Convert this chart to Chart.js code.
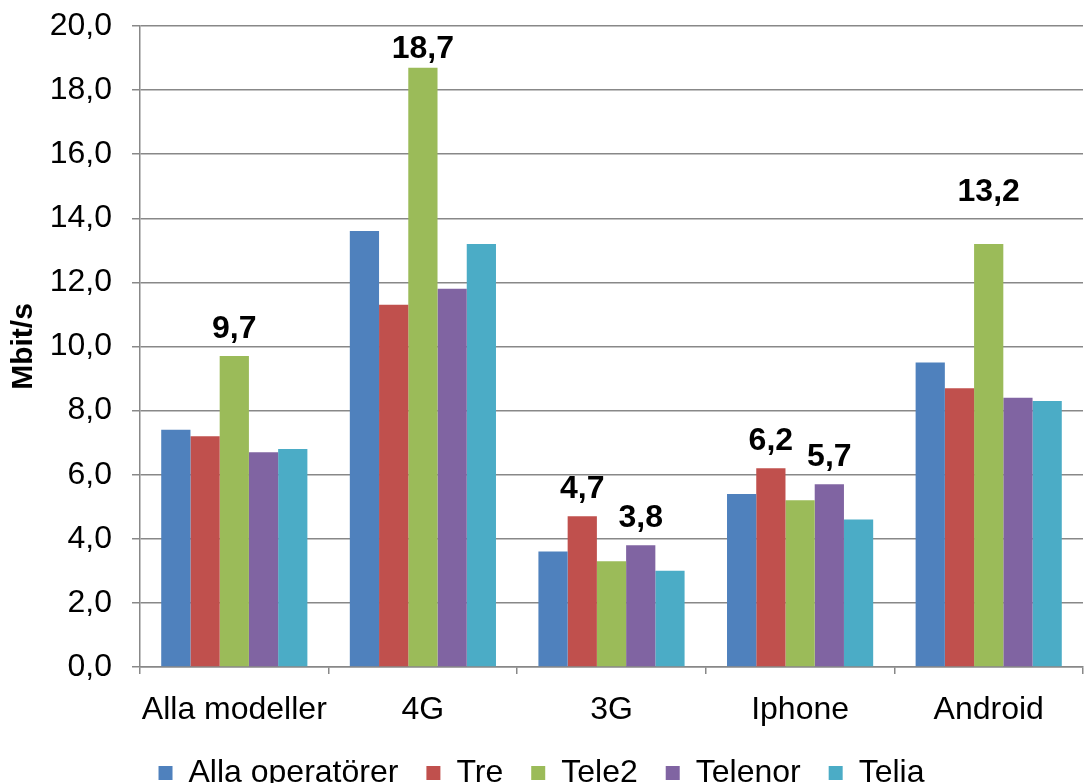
<!DOCTYPE html>
<html>
<head>
<meta charset="utf-8">
<script src="https://cdn.jsdelivr.net/npm/chart.js@4/dist/chart.umd.min.js"></script>
<style>
html,body{margin:0;padding:0;background:#fff;}
#c{display:block;}
</style>
</head>
<body>
<canvas id="c" width="1084" height="783"></canvas>
<script>
const categories = ["Alla modeller", "4G", "3G", "Iphone", "Android"];
const seriesNames = ["Alla operatörer", "Tre", "Tele2", "Telenor", "Telia"];
const allaOperatorer = [7.4, 13.6, 3.6, 5.4, 9.5];
const tre = [7.2, 11.3, 4.7, 6.2, 8.7];
const tele2 = [9.7, 18.7, 3.3, 5.2, 13.2];
const telenor = [6.7, 11.8, 3.8, 5.7, 8.4];
const telia = [6.8, 13.2, 3.0, 4.6, 8.3];
const yTicks = [0, 2, 4, 6, 8, 10, 12, 14, 16, 18, 20];
// which values carry a data label: [seriesIndex, categoryIndex]
const labelledPoints = [[2, 0], [2, 1], [1, 2], [3, 2], [1, 3], [3, 3], [2, 4]];

const colors = ["#4F81BD", "#C0504D", "#9BBB59", "#8064A2", "#4BACC6"];
const values = [allaOperatorer, tre, tele2, telenor, telia];
const fmt = v => v.toFixed(1).replace('.', ',');
const FONT = "'Liberation Sans', Arial, sans-serif";

const labelPlugin = {
  id: 'pointLabels',
  afterDatasetsDraw(chart, args, opts) {
    const ctx = chart.ctx;
    ctx.save();
    ctx.font = "bold 32px " + FONT;
    ctx.fillStyle = "#000";
    ctx.textAlign = "center";
    ctx.textBaseline = "alphabetic";
    labelledPoints.forEach(([s, c]) => {
      const bar = chart.getDatasetMeta(s).data[c];
      const key = s + "-" + c;
      const gap = (opts.gaps && opts.gaps[key] !== undefined) ? opts.gaps[key] : 18;
      ctx.fillText(fmt(values[s][c]), bar.x, bar.y - gap);
    });
    ctx.restore();
  }
};

new Chart(document.getElementById('c'), {
  type: 'bar',
  data: {
    labels: categories,
    datasets: seriesNames.map((name, i) => ({
      label: name,
      data: values[i],
      backgroundColor: colors[i],
      borderWidth: 0,
      categoryPercentage: 0.775,
      barPercentage: 1.0
    }))
  },
  options: {
    responsive: false,
    animation: false,
    devicePixelRatio: 1,
    layout: { padding: { top: 26, right: 1, left: 0, bottom: -16 } },
    plugins: {
      legend: {
        position: 'bottom',
        labels: {
          font: { family: FONT, size: 32 },
          color: '#000',
          boxWidth: 14,
          boxHeight: 14,
          padding: 28
        }
      },
      tooltip: { enabled: false },
      pointLabels: { gaps: { "2-1": 10, "2-4": 43 } }
    },
    scales: {
      x: {
        afterFit(scale) { scale.height = 62; scale.paddingLeft = 0; scale.paddingRight = 0; },
        grid: {
          offset: true,
          drawOnChartArea: false,
          drawTicks: true,
          tickLength: 7,
          color: '#888',
          lineWidth: 1.5
        },
        border: { color: '#888', width: 1.5 },
        ticks: {
          font: { family: FONT, size: 32 },
          color: '#000',
          padding: 17,
          maxRotation: 0,
          autoSkip: false
        }
      },
      y: {
        min: 0,
        max: 20,
        afterFit(scale) { scale.width = 140; scale.paddingTop = 0; scale.paddingBottom = 0; },
        afterBuildTicks(scale) { scale.ticks = yTicks.map(v => ({ value: v })); },
        grid: {
          color: '#888',
          lineWidth: 1.5,
          tickLength: 8
        },
        border: { color: '#888', width: 1.5 },
        ticks: {
          font: { family: FONT, size: 32 },
          color: '#000',
          padding: 20,
          callback: v => fmt(v)
        },
        title: {
          display: true,
          text: 'Mbit/s',
          font: { family: FONT, size: 30, weight: 'bold' },
          color: '#000',
          padding: { top: 6, bottom: 0 }
        }
      }
    }
  },
  plugins: [labelPlugin]
});
</script>
</body>
</html>
